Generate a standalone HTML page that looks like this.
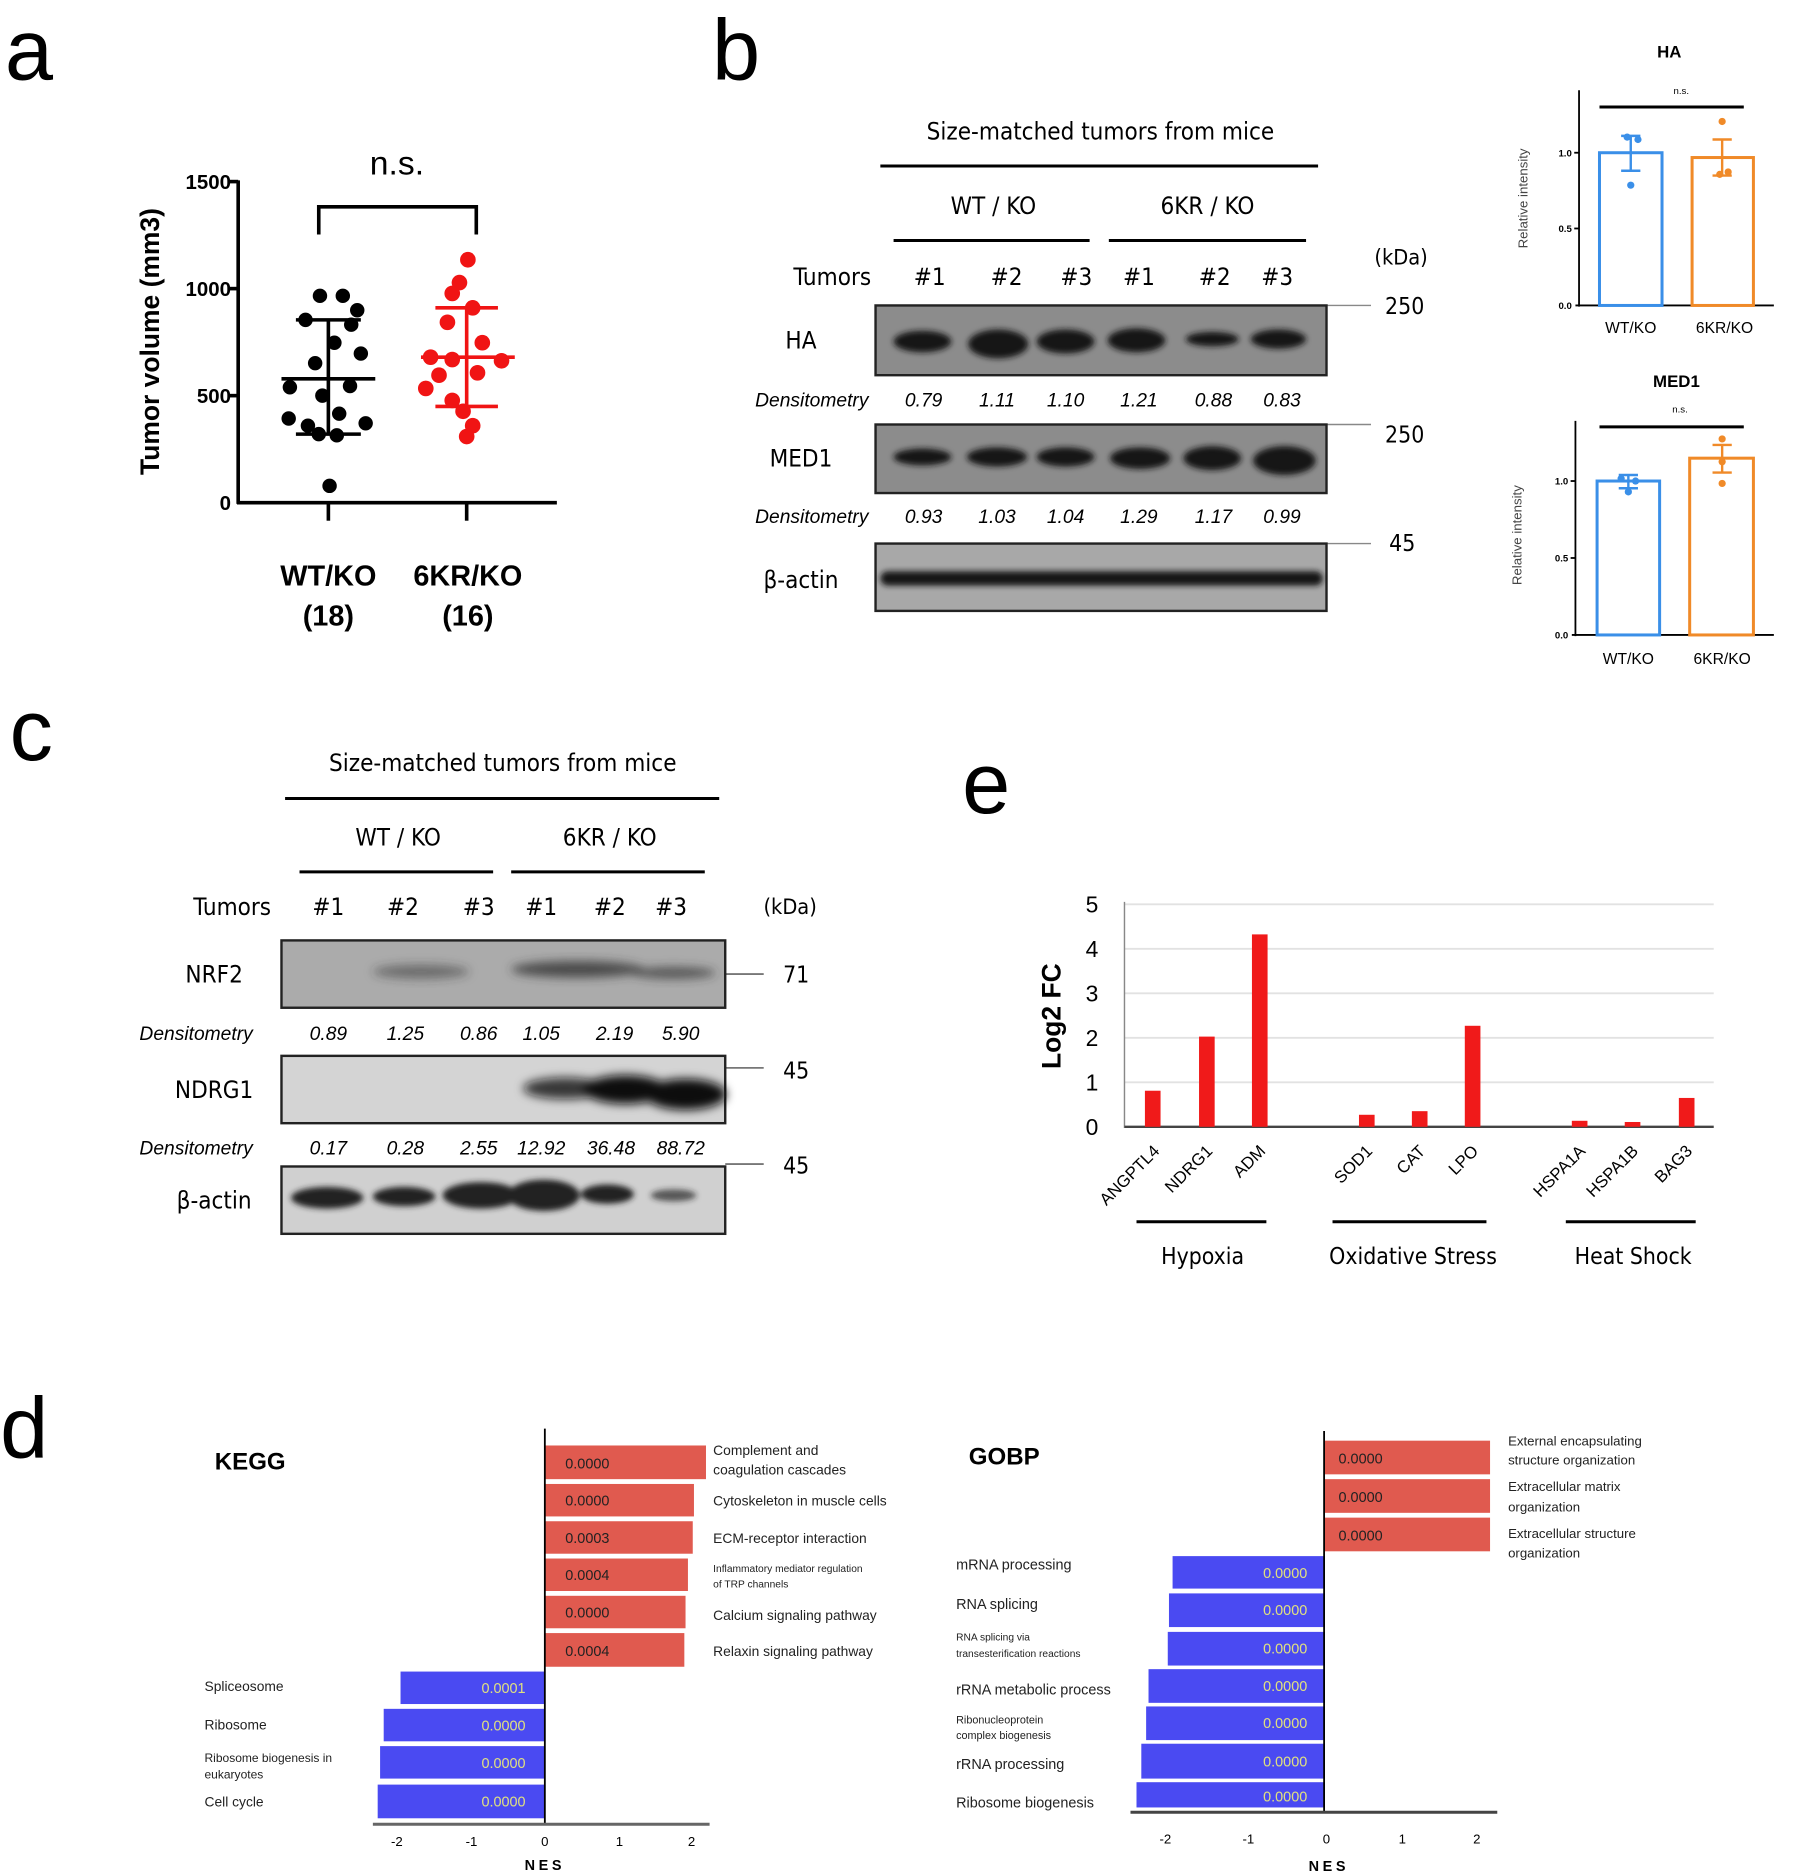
<!DOCTYPE html>
<html><head><meta charset="utf-8"><style>html,body{margin:0;padding:0;background:#fff}svg{display:block}</style></head><body>
<svg width="1804" height="1876" viewBox="0 0 1500 1560" xmlns="http://www.w3.org/2000/svg" font-family="Liberation Sans, DejaVu Sans, sans-serif">
<defs>
<filter id="bl" x="-20%" y="-50%" width="140%" height="200%"><feGaussianBlur stdDeviation="4"/></filter>
<filter id="bl2" x="-20%" y="-50%" width="140%" height="200%"><feGaussianBlur stdDeviation="2.5"/></filter>
</defs>
<rect width="1500" height="1560" fill="#fff"/>
<text x="4" y="66" font-size="72">a</text>
<text x="592" y="66" font-size="72">b</text>
<text x="8" y="632" font-size="72">c</text>
<text x="800" y="676" font-size="72">e</text>
<text x="0" y="1212" font-size="72">d</text>

<g stroke="#000" stroke-width="3" fill="none">
<line x1="198" y1="150" x2="198" y2="419"/>
<line x1="197" y1="418" x2="463" y2="418"/>
<line x1="190" y1="151" x2="198" y2="151"/><line x1="190" y1="240" x2="198" y2="240"/><line x1="190" y1="329" x2="198" y2="329"/>
<line x1="273" y1="418" x2="273" y2="433"/><line x1="388" y1="418" x2="388" y2="433"/>
<polyline points="265,195 265,172 396,172 396,195"/>
</g>
<g font-size="17" font-weight="bold" text-anchor="end">
<text x="192" y="157">1500</text><text x="192" y="246">1000</text><text x="192" y="335">500</text><text x="192" y="424">0</text>
</g>
<text transform="translate(132,284) rotate(-90)" font-size="22" font-weight="bold" text-anchor="middle">Tumor volume (mm3)</text>
<text x="330" y="145" font-size="28" text-anchor="middle">n.s.</text>
<g font-size="24" font-weight="bold" text-anchor="middle"><text x="273" y="487">WT/KO</text><text x="273" y="520">(18)</text><text x="389" y="487">6KR/KO</text><text x="389" y="520">(16)</text></g>
<g fill="#000">
<circle cx="266" cy="246" r="6"/><circle cx="285" cy="246" r="6"/><circle cx="297" cy="258" r="6"/><circle cx="254" cy="266" r="6"/><circle cx="292" cy="270" r="6"/><circle cx="278" cy="285" r="6"/><circle cx="300" cy="294" r="6"/><circle cx="262" cy="302" r="6"/><circle cx="291" cy="321" r="6"/><circle cx="241" cy="322" r="6"/><circle cx="268" cy="329" r="6"/><circle cx="282" cy="344" r="6"/><circle cx="240" cy="348" r="6"/><circle cx="304" cy="352" r="6"/><circle cx="256" cy="354" r="6"/><circle cx="265" cy="361" r="6"/><circle cx="280" cy="362" r="6"/><circle cx="274" cy="404" r="6"/>
</g>
<g stroke="#000" stroke-width="3"><line x1="273" y1="266" x2="273" y2="361"/><line x1="246" y1="266" x2="300" y2="266"/><line x1="246" y1="361" x2="300" y2="361"/><line x1="234" y1="315" x2="312" y2="315"/></g>
<g fill="#f01414">
<circle cx="389" cy="216" r="6.5"/><circle cx="382" cy="235" r="6.5"/><circle cx="376" cy="244" r="6.5"/><circle cx="393" cy="256" r="6.5"/><circle cx="372" cy="268" r="6.5"/><circle cx="401" cy="285" r="6.5"/><circle cx="358" cy="297" r="6.5"/><circle cx="376" cy="299" r="6.5"/><circle cx="417" cy="300" r="6.5"/><circle cx="365" cy="312" r="6.5"/><circle cx="397" cy="310" r="6.5"/><circle cx="354" cy="323" r="6.5"/><circle cx="376" cy="333" r="6.5"/><circle cx="385" cy="342" r="6.5"/><circle cx="393" cy="354" r="6.5"/><circle cx="388" cy="363" r="6.5"/>
</g>
<g stroke="#f01414" stroke-width="3"><line x1="388" y1="256" x2="388" y2="338"/><line x1="362" y1="256" x2="414" y2="256"/><line x1="362" y1="338" x2="414" y2="338"/><line x1="350" y1="297" x2="428" y2="297"/></g>

<g font-size="20" text-anchor="middle" font-family="DejaVu Sans Condensed, DejaVu Sans, sans-serif">
<text x="915" y="116">Size-matched tumors from mice</text>
<text x="826" y="178">WT / KO</text><text x="1004" y="178">6KR / KO</text>
<text x="692" y="237">Tumors</text>
<text x="773" y="237">#1</text><text x="837" y="237">#2</text><text x="895" y="237">#3</text><text x="947" y="237">#1</text><text x="1010" y="237">#2</text><text x="1062" y="237">#3</text>
<text x="1165" y="220" font-size="18">(kDa)</text>
<text x="666" y="290">HA</text><text x="666" y="388">MED1</text><text x="666" y="489">β-actin</text>
<text x="1168" y="261" font-size="19">250</text><text x="1168" y="368" font-size="19">250</text><text x="1166" y="458" font-size="19">45</text>
</g>
<g stroke="#000" stroke-width="2.5"><line x1="732" y1="138" x2="1096" y2="138"/><line x1="743" y1="200" x2="906" y2="200"/><line x1="922" y1="200" x2="1086" y2="200"/></g>
<g stroke="#888" stroke-width="1.2"><line x1="1103" y1="254" x2="1140" y2="254"/><line x1="1103" y1="353" x2="1140" y2="353"/><line x1="1103" y1="452" x2="1140" y2="452"/></g>
<g font-size="16" font-style="italic" text-anchor="middle">
<text x="675" y="338">Densitometry</text><text x="768" y="338">0.79</text><text x="829" y="338">1.11</text><text x="886" y="338">1.10</text><text x="947" y="338">1.21</text><text x="1009" y="338">0.88</text><text x="1066" y="338">0.83</text>
<text x="675" y="435">Densitometry</text><text x="768" y="435">0.93</text><text x="829" y="435">1.03</text><text x="886" y="435">1.04</text><text x="947" y="435">1.29</text><text x="1009" y="435">1.17</text><text x="1066" y="435">0.99</text>
</g>
<rect x="728" y="254" width="375" height="58" fill="#8c8c8c" stroke="#222" stroke-width="2"/>
<g fill="#151515" filter="url(#bl2)">
<ellipse cx="767" cy="284" rx="24" ry="9"/><ellipse cx="830" cy="286" rx="25" ry="12"/><ellipse cx="886" cy="284" rx="24" ry="10"/><ellipse cx="945" cy="283" rx="24" ry="10"/><ellipse cx="1008" cy="282" rx="22" ry="6"/><ellipse cx="1063" cy="282" rx="23" ry="8"/>
</g>
<rect x="728" y="353" width="375" height="57" fill="#8c8c8c" stroke="#222" stroke-width="2"/>
<g fill="#151515" filter="url(#bl2)">
<ellipse cx="767" cy="380" rx="24" ry="7"/><ellipse cx="829" cy="380" rx="25" ry="8"/><ellipse cx="886" cy="380" rx="24" ry="8"/><ellipse cx="948" cy="381" rx="25" ry="9"/><ellipse cx="1008" cy="381" rx="24" ry="10"/><ellipse cx="1068" cy="383" rx="26" ry="12"/>
</g>
<rect x="728" y="452" width="375" height="56" fill="#a8a8a8" stroke="#222" stroke-width="2"/>
<g fill="#151515" filter="url(#bl2)"><rect x="732" y="475" width="368" height="12" rx="6"/></g>

<g font-size="14" font-weight="bold" text-anchor="middle"><text x="1388" y="48">HA</text><text x="1394" y="322">MED1</text></g>
<g font-size="8" text-anchor="middle"><text x="1398" y="78">n.s.</text><text x="1397" y="343">n.s.</text></g>
<g stroke="#000" stroke-width="1.5" fill="none">
<line x1="1313" y1="75" x2="1313" y2="255"/><line x1="1310" y1="254" x2="1475" y2="254"/>
<line x1="1309" y1="127" x2="1313" y2="127"/><line x1="1309" y1="190" x2="1313" y2="190"/>
<line x1="1310" y1="350" x2="1310" y2="529"/><line x1="1307" y1="528" x2="1475" y2="528"/>
<line x1="1306" y1="400" x2="1310" y2="400"/><line x1="1306" y1="464" x2="1310" y2="464"/>
</g>
<g stroke="#000" stroke-width="2.5"><line x1="1330" y1="89" x2="1450" y2="89"/><line x1="1330" y1="355" x2="1450" y2="355"/></g>
<g font-size="8" text-anchor="end" font-weight="bold"><text x="1307" y="130">1.0</text><text x="1307" y="193">0.5</text><text x="1307" y="257">0.0</text><text x="1304" y="403">1.0</text><text x="1304" y="467">0.5</text><text x="1304" y="531">0.0</text></g>
<g font-size="11" fill="#444" text-anchor="middle"><text transform="translate(1270,165) rotate(-90)">Relative intensity</text><text transform="translate(1265,445) rotate(-90)">Relative intensity</text></g>
<g font-size="13" text-anchor="middle"><text x="1356" y="277">WT/KO</text><text x="1434" y="277">6KR/KO</text><text x="1354" y="552">WT/KO</text><text x="1432" y="552">6KR/KO</text></g>
<g fill="none" stroke-width="2.5">
<rect x="1330" y="127" width="52" height="127" stroke="#3a8fe8"/>
<rect x="1407" y="131" width="51" height="123" stroke="#f08a28"/>
<rect x="1328" y="400" width="52" height="128" stroke="#3a8fe8"/>
<rect x="1405" y="381" width="53" height="147" stroke="#f08a28"/>
</g>
<g stroke="#3a8fe8" stroke-width="2"><line x1="1356" y1="113" x2="1356" y2="142"/><line x1="1348" y1="113" x2="1364" y2="113"/><line x1="1348" y1="142" x2="1364" y2="142"/>
<line x1="1354" y1="395" x2="1354" y2="406"/><line x1="1346" y1="395" x2="1362" y2="395"/><line x1="1346" y1="406" x2="1362" y2="406"/></g>
<g stroke="#f08a28" stroke-width="2"><line x1="1432" y1="116" x2="1432" y2="146"/><line x1="1424" y1="116" x2="1440" y2="116"/><line x1="1424" y1="146" x2="1440" y2="146"/>
<line x1="1432" y1="370" x2="1432" y2="393"/><line x1="1424" y1="370" x2="1440" y2="370"/><line x1="1424" y1="393" x2="1440" y2="393"/></g>
<g fill="#3a8fe8"><circle cx="1353" cy="114" r="3"/><circle cx="1362" cy="116" r="3"/><circle cx="1356" cy="154" r="3"/><circle cx="1348" cy="398" r="3"/><circle cx="1360" cy="400" r="3"/><circle cx="1354" cy="409" r="3"/></g>
<g fill="#f08a28"><circle cx="1432" cy="101" r="3"/><circle cx="1430" cy="145" r="3"/><circle cx="1437" cy="143" r="3"/><circle cx="1432" cy="365" r="3"/><circle cx="1432" cy="384" r="3"/><circle cx="1432" cy="402" r="3"/></g>

<g font-size="20" text-anchor="middle" font-family="DejaVu Sans Condensed, DejaVu Sans, sans-serif">
<text x="418" y="641">Size-matched tumors from mice</text>
<text x="331" y="703">WT / KO</text><text x="507" y="703">6KR / KO</text>
<text x="193" y="761">Tumors</text>
<text x="273" y="761">#1</text><text x="335" y="761">#2</text><text x="398" y="761">#3</text><text x="450" y="761">#1</text><text x="507" y="761">#2</text><text x="558" y="761">#3</text>
<text x="657" y="760" font-size="18">(kDa)</text>
<text x="178" y="817">NRF2</text><text x="178" y="913">NDRG1</text><text x="178" y="1005">β-actin</text>
<text x="662" y="817" font-size="19">71</text><text x="662" y="897" font-size="19">45</text><text x="662" y="976" font-size="19">45</text>
</g>
<g stroke="#000" stroke-width="2.5"><line x1="237" y1="664" x2="598" y2="664"/><line x1="249" y1="725" x2="410" y2="725"/><line x1="425" y1="725" x2="586" y2="725"/></g>
<g stroke="#777" stroke-width="1.5"><line x1="603" y1="810" x2="635" y2="810"/><line x1="603" y1="888" x2="635" y2="888"/><line x1="603" y1="968" x2="635" y2="968"/></g>
<g font-size="16" font-style="italic" text-anchor="middle">
<text x="163" y="865">Densitometry</text><text x="273" y="865">0.89</text><text x="337" y="865">1.25</text><text x="398" y="865">0.86</text><text x="450" y="865">1.05</text><text x="511" y="865">2.19</text><text x="566" y="865">5.90</text>
<text x="163" y="960">Densitometry</text><text x="273" y="960">0.17</text><text x="337" y="960">0.28</text><text x="398" y="960">2.55</text><text x="450" y="960">12.92</text><text x="508" y="960">36.48</text><text x="566" y="960">88.72</text>
</g>
<rect x="234" y="782" width="369" height="56" fill="#ababab" stroke="#222" stroke-width="2"/>
<g fill="#333" filter="url(#bl)"><ellipse cx="350" cy="808" rx="40" ry="6" opacity="0.5"/><ellipse cx="480" cy="806" rx="55" ry="7" opacity="0.8"/><ellipse cx="560" cy="809" rx="35" ry="5" opacity="0.7"/></g>
<rect x="234" y="878" width="369" height="56" fill="#d4d4d4" stroke="#222" stroke-width="2"/>
<g fill="#111" filter="url(#bl)"><ellipse cx="470" cy="905" rx="35" ry="9" opacity="0.8"/><ellipse cx="520" cy="906" rx="35" ry="12"/><ellipse cx="570" cy="910" rx="34" ry="13"/></g>
<rect x="234" y="970" width="369" height="56" fill="#d0d0d0" stroke="#222" stroke-width="2"/>
<g fill="#222" filter="url(#bl2)"><ellipse cx="272" cy="996" rx="30" ry="9"/><ellipse cx="336" cy="995" rx="26" ry="8"/><ellipse cx="400" cy="994" rx="32" ry="11"/><ellipse cx="452" cy="994" rx="30" ry="13"/><ellipse cx="505" cy="993" rx="22" ry="8"/><ellipse cx="560" cy="994" rx="19" ry="5" opacity="0.7"/></g>

<g stroke="#e2e2e2" stroke-width="1.5"><line x1="935" y1="752" x2="1425" y2="752"/><line x1="935" y1="789" x2="1425" y2="789"/><line x1="935" y1="826" x2="1425" y2="826"/><line x1="935" y1="863" x2="1425" y2="863"/><line x1="935" y1="900" x2="1425" y2="900"/></g>
<line x1="935" y1="750" x2="935" y2="938" stroke="#888" stroke-width="1.2"/>
<line x1="935" y1="937" x2="1425" y2="937" stroke="#444" stroke-width="2"/>
<g font-size="19" text-anchor="middle"><text x="908" y="759">5</text><text x="908" y="796">4</text><text x="908" y="833">3</text><text x="908" y="870">2</text><text x="908" y="907">1</text><text x="908" y="944">0</text></g>
<text transform="translate(882,845) rotate(-90)" font-size="22" font-weight="bold" text-anchor="middle">Log2 FC</text>
<g fill="#f01a1a">
<rect x="952" y="907" width="13" height="30"/><rect x="997" y="862" width="13" height="75"/><rect x="1041" y="777" width="13" height="160"/>
<rect x="1130" y="927" width="13" height="10"/><rect x="1174" y="924" width="13" height="13"/><rect x="1218" y="853" width="13" height="84"/>
<rect x="1307" y="932" width="13" height="5"/><rect x="1351" y="933" width="13" height="4"/><rect x="1396" y="913" width="13" height="24"/>
</g>
<g font-size="14" text-anchor="end">
<text transform="translate(965,958) rotate(-45)">ANGPTL4</text><text transform="translate(1009,958) rotate(-45)">NDRG1</text><text transform="translate(1053,958) rotate(-45)">ADM</text>
<text transform="translate(1142,958) rotate(-45)">SOD1</text><text transform="translate(1186,958) rotate(-45)">CAT</text><text transform="translate(1230,958) rotate(-45)">LPO</text>
<text transform="translate(1319,958) rotate(-45)">HSPA1A</text><text transform="translate(1363,958) rotate(-45)">HSPA1B</text><text transform="translate(1408,958) rotate(-45)">BAG3</text>
</g>
<g stroke="#000" stroke-width="2.5"><line x1="945" y1="1016" x2="1053" y2="1016"/><line x1="1108" y1="1016" x2="1236" y2="1016"/><line x1="1302" y1="1016" x2="1410" y2="1016"/></g>
<g font-size="19" text-anchor="middle" font-family="DejaVu Sans Condensed, DejaVu Sans, sans-serif"><text x="1000" y="1051">Hypoxia</text><text x="1175" y="1051">Oxidative Stress</text><text x="1358" y="1051">Heat Shock</text></g>

<text x="208" y="1222" font-size="20" font-weight="bold" text-anchor="middle">KEGG</text>
<g fill="#e05a4f">
<rect x="453" y="1202" width="134" height="28"/><rect x="453" y="1234" width="124" height="27"/><rect x="453" y="1265" width="123" height="27"/><rect x="453" y="1296" width="119" height="27"/><rect x="453" y="1327" width="117" height="27"/><rect x="453" y="1358" width="116" height="28"/>
</g>
<g fill="#4a4af2">
<rect x="333" y="1390" width="120" height="27"/><rect x="319" y="1421" width="134" height="27"/><rect x="316" y="1452" width="137" height="27"/><rect x="314" y="1484" width="139" height="28"/>
</g>
<g font-size="12" fill="#222"><text x="470" y="1221">0.0000</text><text x="470" y="1252">0.0000</text><text x="470" y="1283">0.0003</text><text x="470" y="1314">0.0004</text><text x="470" y="1345">0.0000</text><text x="470" y="1377">0.0004</text></g>
<g font-size="12" fill="#e0e080" text-anchor="end"><text x="437" y="1408">0.0001</text><text x="437" y="1439">0.0000</text><text x="437" y="1470">0.0000</text><text x="437" y="1502">0.0000</text></g>
<g font-size="11.5" fill="#222">
<text x="593" y="1210">Complement and</text><text x="593" y="1226">coagulation cascades</text>
<text x="593" y="1252">Cytoskeleton in muscle cells</text>
<text x="593" y="1283">ECM-receptor interaction</text>
<text x="593" y="1307" font-size="8.5">Inflammatory mediator regulation</text><text x="593" y="1320" font-size="8.5">of TRP channels</text>
<text x="593" y="1347">Calcium signaling pathway</text>
<text x="593" y="1377">Relaxin signaling pathway</text>
<text x="170" y="1406">Spliceosome</text><text x="170" y="1438">Ribosome</text>
<text x="170" y="1465" font-size="10">Ribosome biogenesis in</text><text x="170" y="1479" font-size="10">eukaryotes</text>
<text x="170" y="1502">Cell cycle</text>
</g>
<line x1="453" y1="1188" x2="453" y2="1518" stroke="#000" stroke-width="1.5"/>
<line x1="310" y1="1517" x2="590" y2="1517" stroke="#666" stroke-width="2.5"/>
<g font-size="11" text-anchor="middle"><text x="330" y="1535">-2</text><text x="392" y="1535">-1</text><text x="453" y="1535">0</text><text x="515" y="1535">1</text><text x="575" y="1535">2</text></g>
<text x="453" y="1555" font-size="12" font-weight="bold" text-anchor="middle" letter-spacing="3">NES</text>

<text x="835" y="1218" font-size="20" font-weight="bold" text-anchor="middle">GOBP</text>
<g fill="#e05a4f"><rect x="1101" y="1198" width="138" height="28"/><rect x="1101" y="1230" width="138" height="28"/><rect x="1101" y="1262" width="138" height="28"/></g>
<g fill="#4a4af2">
<rect x="975" y="1294" width="126" height="27"/><rect x="972" y="1325" width="129" height="28"/><rect x="971" y="1357" width="130" height="28"/><rect x="955" y="1388" width="146" height="28"/><rect x="953" y="1419" width="148" height="28"/><rect x="949" y="1450" width="152" height="29"/><rect x="945" y="1482" width="156" height="21"/>
</g>
<g font-size="12" fill="#222"><text x="1113" y="1217">0.0000</text><text x="1113" y="1249">0.0000</text><text x="1113" y="1281">0.0000</text></g>
<g font-size="12" fill="#e0e080" text-anchor="end"><text x="1087" y="1312">0.0000</text><text x="1087" y="1343">0.0000</text><text x="1087" y="1375">0.0000</text><text x="1087" y="1406">0.0000</text><text x="1087" y="1437">0.0000</text><text x="1087" y="1469">0.0000</text><text x="1087" y="1498">0.0000</text></g>
<g font-size="11" fill="#222">
<text x="1254" y="1202">External encapsulating</text><text x="1254" y="1218">structure organization</text>
<text x="1254" y="1240">Extracellular matrix</text><text x="1254" y="1257">organization</text>
<text x="1254" y="1279">Extracellular structure</text><text x="1254" y="1295">organization</text>
<text x="795" y="1305" font-size="12">mRNA processing</text><text x="795" y="1338" font-size="12">RNA splicing</text>
<text x="795" y="1364" font-size="8.5">RNA splicing via</text><text x="795" y="1378" font-size="8.5">transesterification reactions</text>
<text x="795" y="1409" font-size="12">rRNA metabolic process</text>
<text x="795" y="1433" font-size="9">Ribonucleoprotein</text><text x="795" y="1446" font-size="9">complex biogenesis</text>
<text x="795" y="1471" font-size="12">rRNA processing</text><text x="795" y="1503" font-size="12">Ribosome biogenesis</text>
</g>
<line x1="1101" y1="1190" x2="1101" y2="1507" stroke="#000" stroke-width="1.5"/>
<line x1="940" y1="1507" x2="1245" y2="1507" stroke="#444" stroke-width="2.5"/>
<g font-size="11" text-anchor="middle"><text x="969" y="1533">-2</text><text x="1038" y="1533">-1</text><text x="1103" y="1533">0</text><text x="1166" y="1533">1</text><text x="1228" y="1533">2</text></g>
<text x="1105" y="1556" font-size="12" font-weight="bold" text-anchor="middle" letter-spacing="3">NES</text>
</svg>
</body></html>
